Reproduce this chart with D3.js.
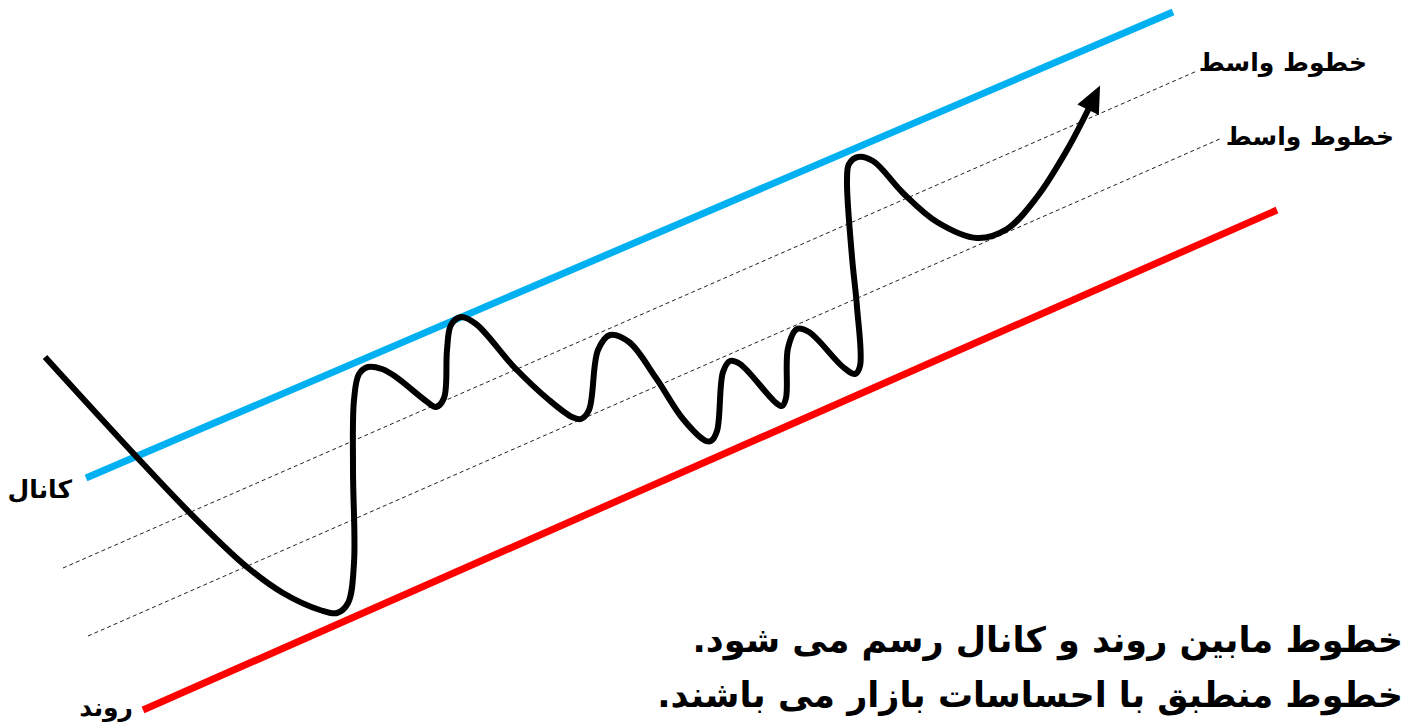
<!DOCTYPE html>
<html>
<head>
<meta charset="utf-8">
<script src="https://cdn.jsdelivr.net/npm/d3@7"></script>
<style>
  body { margin: 0; background: #fff; }
  text { font-family: "DejaVu Sans", sans-serif; font-weight: bold; fill: #000; }
</style>
</head>
<body>
<div id="chart"></div>
<script>
/* Channel with trend, channel and middle lines */

// lines as [time, price] end points
const trendLine = [[14.3, 1.4], [127.7, 51.4]];
const channelLine = [[8.6, 24.6], [117.3, 71.2]];
const middleLines = [
    [[6.3, 15.6], [119.7, 65.3]],
    [[8.8, 8.8], [122.2, 58.6]]
];

// price path
const priceT = [4.5, 13.3, 19.0, 24.7, 28.3, 32.0, 33.7, 34.8, 35.4, 35.3, 35.4, 35.9, 36.8, 38.2, 39.6,
    42.6, 43.6, 44.4, 44.7, 45.1, 46.1, 47.6, 51.4, 54.9, 57.2, 58.1, 58.9, 59.8, 61.0, 62.9,
    65.6, 68.3, 70.6, 71.1, 71.7, 72.3, 73.0, 74.0, 77.5, 78.2, 78.6, 78.8, 79.7, 80.9, 84.3,
    85.5, 86.0, 85.7, 85.2, 84.7, 84.9, 85.8, 87.3, 90.3, 93.7, 97.7, 100.7, 103.7, 106.7, 108.9];
const priceP = [36.7, 27.1, 21.1, 15.7, 13.1, 11.4, 11.1, 12.1, 16.1, 25.4, 32.4, 35.0, 35.7, 35.5, 34.7,
    32.3, 31.7, 32.6, 37.4, 39.9, 40.7, 40.0, 35.7, 32.4, 30.7, 30.5, 31.4, 37.4, 38.9, 38.2,
    34.6, 30.5, 28.3, 28.3, 29.3, 35.2, 36.3, 36.0, 32.2, 31.8, 32.6, 37.6, 39.5, 39.2, 35.7,
    35.0, 35.8, 41.7, 46.7, 54.4, 56.0, 56.7, 56.3, 53.1, 50.2, 48.6, 49.5, 52.7, 57.4, 61.6];

// text
const middleLabel = "خطوط واسط";
const channelLabel = "کانال";
const trendLabel = "روند";
const notes = [
    "خطوط مابین روند و کانال رسم می شود.",
    "خطوط منطبق با احساسات بازار می باشند."
];

const width = 1406,
      height = 724;

let svg = d3.select("#chart")
    .append("svg")
    .attr("width", width)
    .attr("height", height);

let x = d3.scaleLinear()
    .domain([0, 140.6])
    .range([0, width]);

let y = d3.scaleLinear()
    .domain([0, 72.4])
    .range([height, 0]);

let line = d3.line()
    .x(d => x(d[0]))
    .y(d => y(d[1]));

// arrow head
svg.append("defs").append("marker")
    .attr("id", "arrow")
    .attr("markerUnits", "userSpaceOnUse")
    .attr("markerWidth", 40)
    .attr("markerHeight", 40)
    .attr("refX", 2)
    .attr("refY", 0)
    .attr("viewBox", "-2 -20 40 40")
    .attr("orient", "auto")
    .append("path")
    .attr("d", "M0,-12 L27,0 L0,12 Z")
    .attr("fill", "#000");

// middle lines (dashed)
svg.selectAll(".middle")
    .data(middleLines)
    .join("path")
    .attr("class", "middle")
    .attr("d", line)
    .attr("fill", "none")
    .attr("stroke", "#222")
    .attr("stroke-width", 1)
    .attr("stroke-dasharray", "4,3");

svg.append("path")
    .attr("d", line(channelLine))
    .attr("stroke", "#00b0f0")
    .attr("stroke-width", 7);

svg.append("path")
    .attr("d", line(trendLine))
    .attr("stroke", "#ff0000")
    .attr("stroke-width", 7);

let pricePts = priceT.map((t, i) => [t, priceP[i]]);

svg.append("path")
    .attr("d", line.curve(d3.curveCatmullRom.alpha(0.5))(pricePts))
    .attr("fill", "none")
    .attr("stroke", "#000")
    .attr("stroke-width", 6)
    .attr("stroke-linejoin", "round")
    .attr("marker-end", "url(#arrow)");

// labels
svg.append("text")
    .attr("x", x(middleLines[0][1][0]) + 170)
    .attr("y", y(middleLines[0][1][1]) + 0)
    .attr("direction", "rtl")
    .attr("font-size", 25)
    .text(middleLabel);

svg.append("text")
    .attr("x", x(middleLines[1][1][0]) + 172)
    .attr("y", y(middleLines[1][1][1]) + 7)
    .attr("direction", "rtl")
    .attr("font-size", 25)
    .text(middleLabel);

svg.append("text")
    .attr("x", x(channelLine[0][0]) - 14)
    .attr("y", y(channelLine[0][1]) + 20)
    .attr("direction", "rtl")
    .attr("font-size", 25)
    .text(channelLabel);

svg.append("text")
    .attr("x", x(trendLine[0][0]) - 10)
    .attr("y", y(trendLine[0][1]) + 6)
    .attr("direction", "rtl")
    .attr("font-size", 25)
    .text(trendLabel);

svg.selectAll(".note")
    .data(notes)
    .join("text")
    .attr("class", "note")
    .attr("x", 1403)
    .attr("y", (d, i) => 652 + i * 55)
    .attr("direction", "rtl")
    .attr("font-size", 35)
    .text(d => d);
</script>
</body>
</html>
